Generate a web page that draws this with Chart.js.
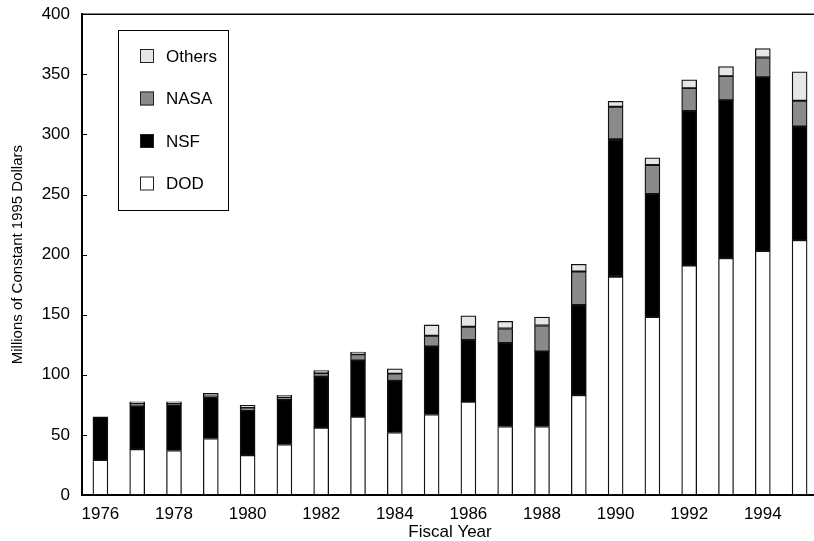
<!DOCTYPE html>
<html>
<head>
<meta charset="utf-8">
<script src="https://cdn.jsdelivr.net/npm/chart.js@4/dist/chart.umd.min.js"></script>
<style>
  html, body { margin: 0; padding: 0; background: #fff; overflow: hidden; }
  #wrap { width: 818px; height: 541px; }
</style>
</head>
<body>
<div id="wrap"><canvas id="fundingChart" width="818" height="541"></canvas></div>
<script>
// Fiscal years and funding by agency (millions of constant 1995 dollars)
const years = ['1976', '1977', '1978', '1979', '1980', '1981', '1982', '1983', '1984', '1985',
               '1986', '1987', '1988', '1989', '1990', '1991', '1992', '1993', '1994', '1995'];
const dod    = [29, 38, 37, 47, 33, 42, 56, 65, 52, 67, 77.5, 57, 57, 83, 181.5, 148, 191, 197, 203, 212];
const nsf    = [36, 36, 38, 34.5, 37.5, 37.5, 42.5, 47, 43, 56.5, 51.5, 69.5, 62.5, 75, 114.5, 102.5, 128.5, 131.5, 144.5, 94.5];
const nasa   = [0, 2, 1, 0.5, 2, 2, 3, 5, 6, 9, 11, 12, 21.5, 28, 27, 24, 19, 20, 16.5, 21.5];
const others = [0, 1.5, 1.5, 2.5, 2, 1.5, 2, 2, 4, 9, 9, 6, 7, 6, 4.5, 6, 7, 8, 7.5, 24];
const yTicks = [0, 50, 100, 150, 200, 250, 300, 350, 400];

const FONT = '"Liberation Sans", Arial, Helvetica, sans-serif';

function barSet(label, data, fill) {
    return {
        label: label,
        data: data,
        backgroundColor: fill,
        borderColor: '#111',
        borderWidth: 1.3,
        borderSkipped: false,
        barThickness: 15
    };
}

// inward tick marks on the y axis + top frame line
const framePlugin = {
    id: 'frame',
    afterDatasetsDraw(chart) {
        const { ctx, chartArea } = chart;
        const y = chart.scales.y;
        ctx.save();
        ctx.strokeStyle = '#000';
        ctx.lineWidth = 1;
        yTicks.forEach(v => {
            const py = Math.round(y.getPixelForValue(v)) + 0.5;
            ctx.beginPath();
            ctx.moveTo(chartArea.left, py);
            ctx.lineTo(chartArea.left + 5, py);
            ctx.stroke();
        });
        ctx.lineWidth = 1.5;
        ctx.beginPath();
        ctx.moveTo(chartArea.left, chartArea.top);
        ctx.lineTo(chartArea.right, chartArea.top);
        ctx.stroke();
        ctx.restore();
    }
};

// boxed legend inside the plot area, top item = top of stack
const boxLegend = {
    id: 'boxLegend',
    afterDraw(chart) {
        const ctx = chart.ctx;
        const sets = chart.data.datasets.slice().reverse();
        ctx.save();
        ctx.fillStyle = '#fff';
        ctx.fillRect(118, 30, 110, 180);
        ctx.strokeStyle = '#000';
        ctx.lineWidth = 1;
        ctx.strokeRect(118.5, 30.5, 110, 180);
        ctx.font = '17px ' + FONT;
        ctx.textBaseline = 'middle';
        sets.forEach((ds, i) => {
            const cy = 56 + i * 42.5;
            ctx.fillStyle = ds.backgroundColor;
            ctx.fillRect(140, cy - 7, 14, 14);
            ctx.strokeStyle = '#222';
            ctx.strokeRect(140.5, cy - 6.5, 13, 13);
            ctx.fillStyle = '#000';
            ctx.fillText(ds.label, 166, cy + 1);
        });
        ctx.restore();
    }
};

const ctx = document.getElementById('fundingChart');
const chart = new Chart(ctx, {
    type: 'bar',
    data: {
        labels: years,
        datasets: [
            barSet('DOD', dod, '#ffffff'),
            barSet('NSF', nsf, '#000000'),
            barSet('NASA', nasa, '#8a8a8a'),
            barSet('Others', others, '#e6e6e6')
        ]
    },
    options: {
        responsive: false,
        animation: false,
        layout: { padding: { top: 14, right: 0, left: 0, bottom: 0 } },
        plugins: {
            legend: { display: false },
            tooltip: { enabled: false }
        },
        scales: {
            x: {
                stacked: true,
                grid: { display: false },
                border: { display: true, color: '#000', width: 2 },
                ticks: {
                    color: '#000',
                    font: { family: FONT, size: 17 },
                    padding: 1,
                    autoSkip: false,
                    maxRotation: 0,
                    callback: (v, i) => (i % 2 === 0 ? years[i] : '')
                },
                title: {
                    display: true,
                    text: 'Fiscal Year',
                    color: '#000',
                    font: { family: FONT, size: 17, lineHeight: 1 },
                    padding: { top: 0, bottom: 0 }
                },
                afterFit: s => { s.height = 46; }
            },
            y: {
                stacked: true,
                min: 0,
                max: 400,
                grid: { display: false },
                border: { display: true, color: '#000', width: 2 },
                ticks: {
                    color: '#000',
                    stepSize: 50,
                    padding: 4,
                    font: { family: FONT, size: 17 }
                },
                title: {
                    display: true,
                    text: 'Millions of Constant 1995 Dollars',
                    color: '#000',
                    font: { family: FONT, size: 15 },
                    padding: { top: 9, bottom: 0 }
                },
                afterFit: s => { s.width = 82; }
            }
        }
    },
    plugins: [framePlugin, boxLegend]
});
</script>
</body>
</html>
